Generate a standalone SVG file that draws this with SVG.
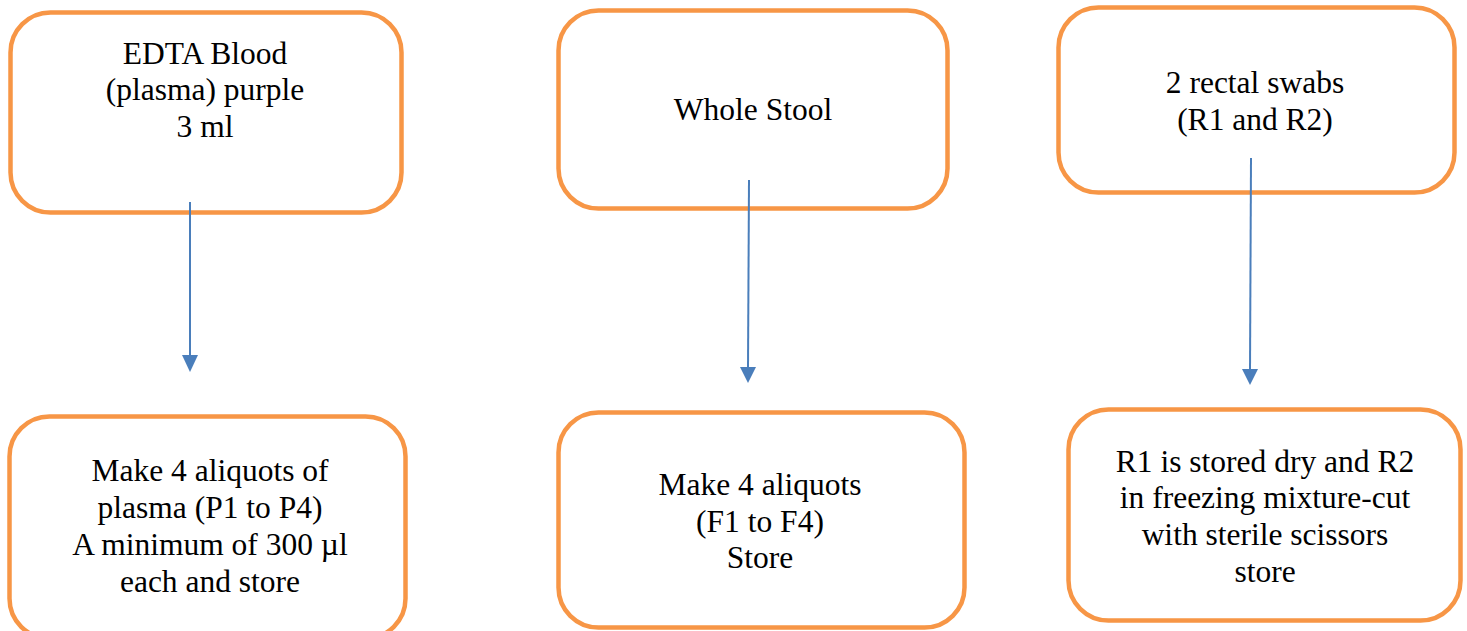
<svg xmlns="http://www.w3.org/2000/svg" width="1467" height="631" viewBox="0 0 1467 631" font-family="Liberation Serif, Times New Roman, serif">
<style>
.box{fill:#fff;stroke:#F79646;stroke-width:4.5}
.t{font-size:31.5px;fill:#000;text-anchor:middle}
.c{stroke:#4A7EBB;stroke-width:2;fill:none}
.h{fill:#4A7EBB}
</style>
<rect width="1467" height="631" fill="#fff"/>
<g id="n1"><rect class="box" x="10.5" y="12.5" width="391" height="200" rx="40"/>
<text class="t" font-family="Liberation Serif, serif" x="205" y="64">EDTA Blood</text>
<text class="t" font-family="Liberation Serif, serif" x="205" y="100">(plasma) purple</text>
<text class="t" font-family="Liberation Serif, serif" x="205" y="137">3 ml</text></g>
<g id="n2"><rect class="box" x="558.5" y="10.5" width="389" height="198" rx="40"/>
<text class="t" font-family="Liberation Serif, serif" x="753" y="120">Whole Stool</text></g>
<g id="n3"><rect class="box" x="1058.5" y="7.5" width="396" height="185" rx="40"/>
<text class="t" font-family="Liberation Serif, serif" x="1255" y="93">2 rectal swabs</text>
<text class="t" font-family="Liberation Serif, serif" x="1255" y="130">(R1 and R2)</text></g>
<g id="n4"><rect class="box" x="9.5" y="416.5" width="396" height="222" rx="40"/>
<text class="t" font-family="Liberation Serif, serif" x="210" y="481">Make 4 aliquots of</text>
<text class="t" font-family="Liberation Serif, serif" x="210" y="518">plasma (P1 to P4)</text>
<text class="t" font-family="Liberation Serif, serif" x="210" y="555">A minimum of 300 µl</text>
<text class="t" font-family="Liberation Serif, serif" x="210" y="592">each and store</text></g>
<g id="n5"><rect class="box" x="558.5" y="412.5" width="406" height="215" rx="40"/>
<text class="t" font-family="Liberation Serif, serif" x="760" y="495">Make 4 aliquots</text>
<text class="t" font-family="Liberation Serif, serif" x="760" y="532">(F1 to F4)</text>
<text class="t" font-family="Liberation Serif, serif" x="760" y="568">Store</text></g>
<g id="n6"><rect class="box" x="1068.5" y="409.5" width="392" height="211" rx="40"/>
<text class="t" font-family="Liberation Serif, serif" x="1265" y="472">R1 is stored dry and R2</text>
<text class="t" font-family="Liberation Serif, serif" x="1265" y="508">in freezing mixture-cut</text>
<text class="t" font-family="Liberation Serif, serif" x="1265" y="545">with sterile scissors</text>
<text class="t" font-family="Liberation Serif, serif" x="1265" y="582">store</text></g>
<g id="connectors">
<path class="c" d="M190,202 V356"/>
<path class="h" d="M182,355 L198,355 L190,372 z"/>
<path class="c" d="M749,180 L748,368"/>
<path class="h" d="M740,367 L756,367 L748,383 z"/>
<path class="c" d="M1251,158 L1250,370"/>
<path class="h" d="M1242,369 L1258,369 L1250,385 z"/>
</g>
</svg>
